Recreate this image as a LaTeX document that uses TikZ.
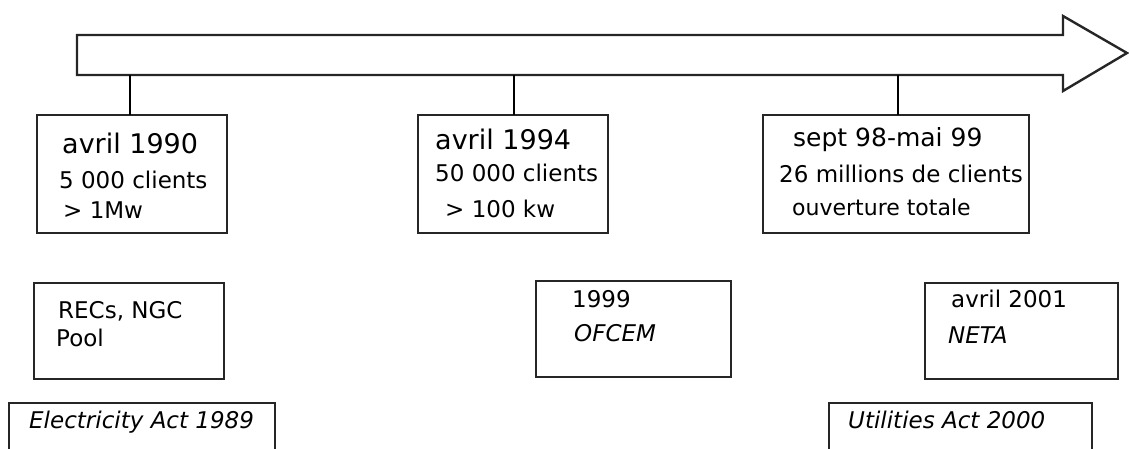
\documentclass[tikz,border=0pt]{standalone}
\usepackage{fontspec}
\setmainfont{DejaVu Sans}
\begin{document}
\begin{tikzpicture}[x=1pt,y=-1pt,
  boxstyle/.style={draw=black!85,line width=2pt,fill=none},
  stem/.style={draw=black,line width=1.5pt},
  bigtxt/.style={anchor=base west,inner sep=0pt,font=\fontsize{27}{27}\selectfont},
  txt/.style={anchor=base west,inner sep=0pt,font=\fontsize{23}{23}\selectfont},
  ittxt/.style={anchor=base west,inner sep=0pt,font=\fontsize{23}{23}\selectfont\itshape}]
\useasboundingbox (0,0) rectangle (1129,448);
\clip (0,0) rectangle (1129,448);
% timeline arrow
\draw[draw=black!85,line width=2.4pt,line join=miter] (77,35) -- (1063,35) -- (1063,16) -- (1127,53) -- (1063,91) -- (1063,75) -- (77,75) -- cycle;
\coordinate (s1) at (130,75);
\coordinate (s2) at (514,75);
\coordinate (s3) at (898,75);
% upper boxes
\draw[boxstyle] (37,115) rectangle (227,233);
\coordinate (b1n) at (130,115);
\draw[boxstyle] (418,115) rectangle (608,233);
\coordinate (b2n) at (514,115);
\draw[boxstyle] (763,115) rectangle (1029,233);
\coordinate (b3n) at (898,115);
\draw[stem] (s1) -- (b1n);
\draw[stem] (s2) -- (b2n);
\draw[stem] (s3) -- (b3n);
% upper texts
\node[bigtxt] (t11) at (62,153) {avril 1990};
\node[txt] (t12) at (59,188) {5 000 clients};
\node[txt] (t13) at (63,218) {> 1Mw};
\node[bigtxt] (t21) at (435,149) {avril 1994};
\node[txt] (t22) at (435,181) {50 000 clients};
\node[txt] (t23) at (445,217) {> 100 kw};
\node[bigtxt,font=\fontsize{25}{25}\selectfont] (t31) at (793,146) {sept 98-mai 99};
\node[txt] (t32) at (779,182) {26 millions de clients};
\node[txt,font=\fontsize{22}{22}\selectfont] (t33) at (792,215) {ouverture totale};
% lower boxes
\draw[boxstyle] (34,283) rectangle (224,379);
\draw[boxstyle] (536,281) rectangle (731,377);
\draw[boxstyle] (925,283) rectangle (1118,379);
\draw[boxstyle] (9,403) rectangle (275,470);
\draw[boxstyle] (829,403) rectangle (1092,470);
% lower texts
\node[txt] (l11) at (58,318) {RECs, NGC};
\node[txt] (l12) at (56,346) {Pool};
\node[txt] (l21) at (572,307) {1999};
\node[ittxt] (l22) at (574,341) {OFCEM};
\node[txt] (l31) at (951,307) {avril 2001};
\node[ittxt] (l32) at (948,343) {NETA};
\node[ittxt] (a1) at (29,428) {Electricity Act 1989};
\node[ittxt] (a2) at (848,428) {Utilities Act 2000};
\end{tikzpicture}
\end{document}
